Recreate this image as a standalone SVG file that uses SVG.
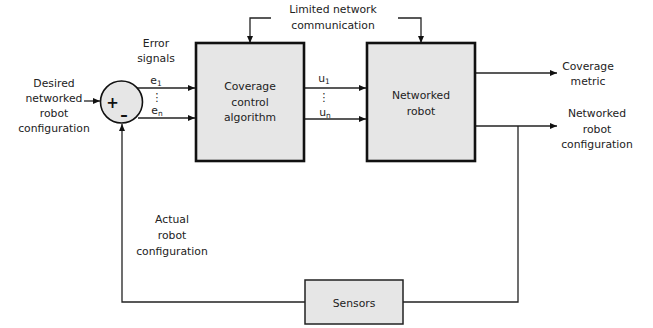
<svg xmlns="http://www.w3.org/2000/svg" width="653" height="328" viewBox="0 0 653 328">
<style>
text{font-family:"DejaVu Sans","Liberation Sans",sans-serif;font-size:10.8px;fill:#222;text-anchor:middle}
.sub{font-size:7.5px}
.c{fill:none;stroke:#222;stroke-width:1.3}
.box{fill:#e6e6e6;stroke:#111;stroke-width:2.6}
.sbox{fill:#e6e6e6;stroke:#222;stroke-width:1.5}
.sign{font-size:15px;font-weight:bold;fill:#111}
</style>
<defs>
<marker id="ah" markerWidth="7" markerHeight="6" refX="7" refY="3" orient="auto" markerUnits="userSpaceOnUse">
<path d="M0,0 L7,3 L0,6 Z" fill="#111"/>
</marker>
</defs>
<rect width="653" height="328" fill="#fff"/>
<g id="connectors">
<path class="c" d="M84,101 H100" marker-end="url(#ah)"/>
<path class="c" d="M137,88 H195" marker-end="url(#ah)"/>
<path class="c" d="M138,118 H195" marker-end="url(#ah)"/>
<path class="c" d="M304,88 H366" marker-end="url(#ah)"/>
<path class="c" d="M304,119 H366" marker-end="url(#ah)"/>
<path class="c" d="M475,73 H557" marker-end="url(#ah)"/>
<path class="c" d="M475,126 H557" marker-end="url(#ah)"/>
<path class="c" d="M518,126 V302 H403"/>
<path class="c" d="M305,302 H122 V124" marker-end="url(#ah)"/>
<path class="c" d="M271,18 H250 V43" marker-end="url(#ah)"/>
<path class="c" d="M398,18 H421 V43" marker-end="url(#ah)"/>
</g>
<g id="sum">
<circle cx="121.5" cy="102" r="21" fill="#e6e6e6" stroke="#111" stroke-width="1.6"/>
<text class="sign" x="112.5" y="108">+</text>
<text class="sign" x="124" y="119.5">–</text>
</g>
<g id="coverage-control">
<rect class="box" x="196" y="43" width="108" height="118"/>
<text x="250" y="90">Coverage</text>
<text x="250" y="105.5">control</text>
<text x="250" y="121">algorithm</text>
</g>
<g id="networked-robot">
<rect class="box" x="367" y="43" width="108" height="118"/>
<text x="421" y="99">Networked</text>
<text x="421" y="114.5">robot</text>
</g>
<g id="sensors">
<rect class="sbox" x="305" y="280" width="98" height="44"/>
<text x="354" y="306.5">Sensors</text>
</g>
<g id="labels">
<text x="54" y="87">Desired</text>
<text x="54" y="102">networked</text>
<text x="54" y="117">robot</text>
<text x="54" y="132">configuration</text>
<text x="156" y="47">Error</text>
<text x="156" y="61.5">signals</text>
<text x="156" y="84">e<tspan class="sub" dy="2">1</tspan></text>
<text x="157" y="101">⋮</text>
<text x="157" y="114">e<tspan class="sub" dy="2">n</tspan></text>
<text x="324" y="82">u<tspan class="sub" dy="2">1</tspan></text>
<text x="324" y="101">⋮</text>
<text x="325" y="115.5">u<tspan class="sub" dy="2">n</tspan></text>
<text x="333" y="13">Limited network</text>
<text x="333" y="29">communication</text>
<text x="588" y="69.5">Coverage</text>
<text x="588" y="85">metric</text>
<text x="597" y="117">Networked</text>
<text x="597" y="132.5">robot</text>
<text x="597" y="148">configuration</text>
<text x="172" y="223">Actual</text>
<text x="172" y="239">robot</text>
<text x="172" y="255">configuration</text>
</g>
</svg>
